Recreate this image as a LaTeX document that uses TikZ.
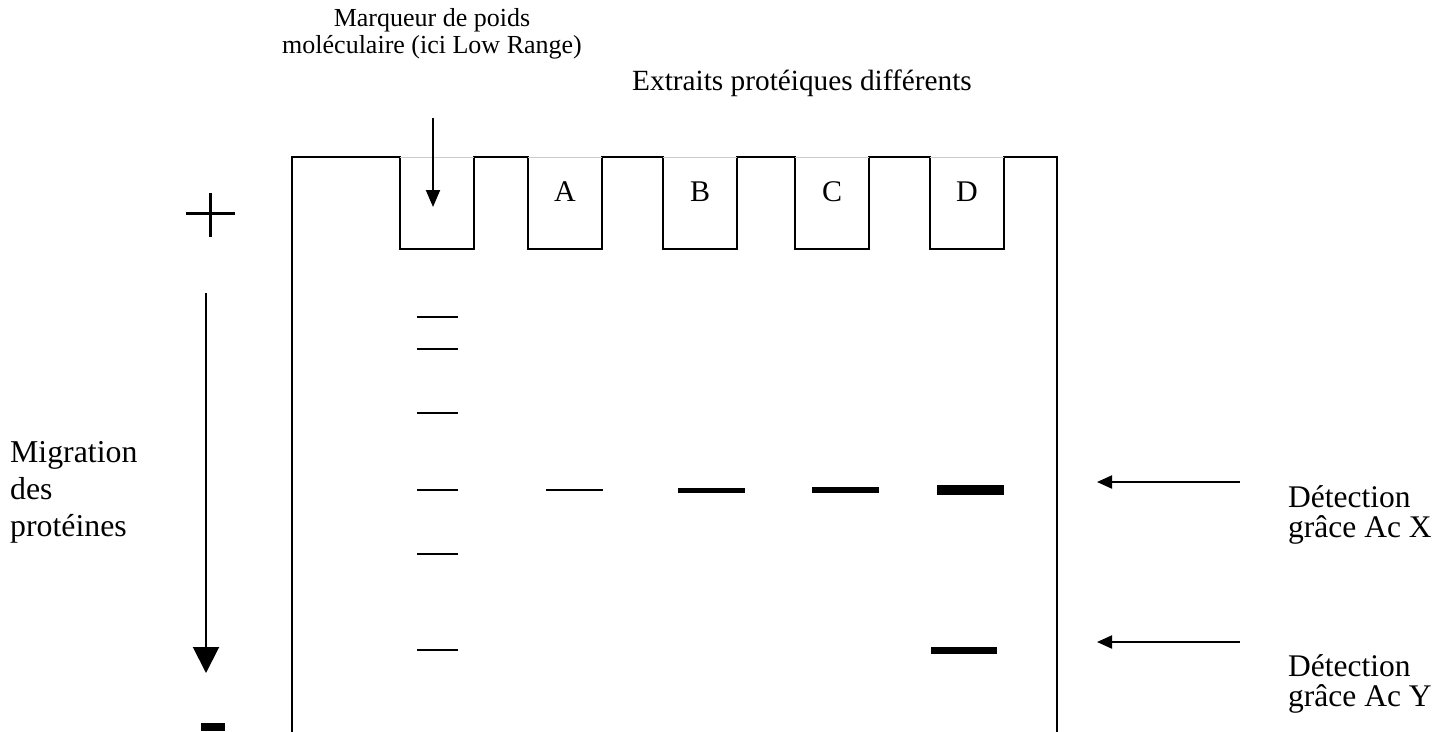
\documentclass[tikz,border=0pt]{standalone}
\usepackage{fontspec}
\setmainfont{Liberation Serif}
\usetikzlibrary{arrows.meta}
\begin{document}
\begin{tikzpicture}[x=1pt,y=-1pt,
  gelline/.style={line width=2pt,line cap=rect},
  marker/.style={line width=2pt},
  lbl/.style={inner sep=0pt},
  wellname/.style={font=\fontsize{30}{30}\selectfont,inner sep=0pt,anchor=base},
  pointer/.style={line width=2pt,-{Triangle[length=15pt,width=13pt]}},
  band/.style={line cap=butt}]
\useasboundingbox (0,0) rectangle (1434,731);

% gel outline with the five wells
\draw[gelline] (292,731) -- (292,157) -- (400,157) -- (400,249) -- (474,249) -- (474,157)
  -- (528,157) -- (528,249) -- (602,249) -- (602,157)
  -- (663,157) -- (663,249) -- (737,249) -- (737,157)
  -- (795,157) -- (795,249) -- (869,249) -- (869,157)
  -- (930,157) -- (930,249) -- (1004,249) -- (1004,157)
  -- (1057,157) -- (1057,731);
\foreach \a/\b in {400/474,528/602,663/737,795/869,930/1004}
  \draw[gray!40,line width=1pt] (\a,157) -- (\b,157);

% well labels
\node[wellname] (wA) at (565,201) {A};
\node[wellname] (wB) at (700,201) {B};
\node[wellname] (wC) at (832,201) {C};
\node[wellname] (wD) at (967,201) {D};

% molecular weight marker
\node[lbl,align=center,anchor=base,font=\fontsize{26}{27}\selectfont] (mk) at (432,53) {Marqueur de poids\\moléculaire (ici Low Range)};
\coordinate (mkA) at (433,118);
\coordinate (mkB) at (433,207);
\draw[line width=2pt,-{Triangle[length=17pt,width=14pt]}] (mkA) -- (mkB);

\node[lbl,anchor=base,font=\fontsize{29.3}{29.3}\selectfont] (ext) at (802,90) {Extraits protéiques différents};

% electrodes
\node (plus) at (210,215) {};
\draw[line width=3pt] (186,213) -- (235,213) (210,193) -- (210,237);
\fill (201,723) rectangle (225,731);

% migration direction
\coordinate (mgA) at (206,293);
\coordinate (mgB) at (206,673);
\draw[line width=2pt,-{Triangle[length=26pt,width=26pt]}] (mgA) -- (mgB);
\node[lbl,align=left,anchor=base west,font=\fontsize{31.8}{37}\selectfont] (mig) at (10,536) {Migration\\des\\protéines};

% marker bands
\foreach \y in {317,349,413,490,554,650}
  \draw[marker] (417,\y) -- (458,\y);

% sample bands
\draw[band,line width=2pt] (546,490) -- (603,490);
\draw[band,line width=5pt] (678,490) -- (745,490);
\draw[band,line width=6pt] (812,490) -- (879,490);
\draw[band,line width=10pt] (937,490) -- (1004,490);
\draw[band,line width=7pt] (931,650) -- (997,650);

% antibody detection labels
\tikzset{detect/.style={lbl,align=left,anchor=base west,font=\fontsize{31.5}{30}\selectfont}}
\node[detect] (dx) at (1288,537) {Détection\\grâce Ac X};
\node[detect] (dy) at (1288,706) {Détection\\grâce Ac Y};
\coordinate (axA) at (1240,482);
\coordinate (axB) at (1097,482);
\coordinate (ayA) at (1240,642);
\coordinate (ayB) at (1097,642);
\draw[pointer] (axA) -- (axB);
\draw[pointer] (ayA) -- (ayB);
\end{tikzpicture}
\end{document}
